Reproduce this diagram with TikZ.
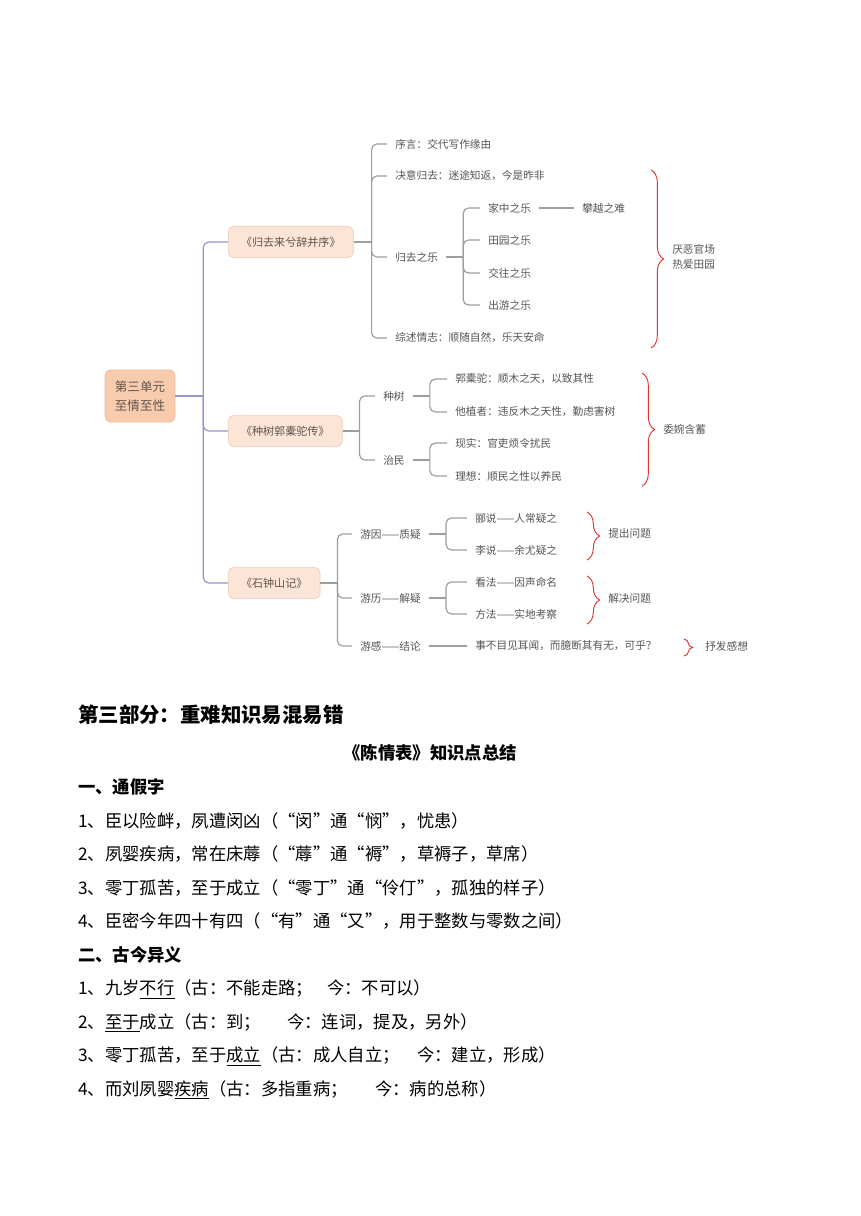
\documentclass[tikz,border=0pt]{standalone}
\usepackage{fontspec}
\setmainfont{Noto Sans CJK SC}
\usetikzlibrary{decorations.pathreplacing}

\definecolor{rootfill}{RGB}{248,203,173}
\definecolor{rootedge}{RGB}{236,188,158}
\definecolor{topicfill}{RGB}{252,228,214}
\definecolor{topicedge}{RGB}{240,204,180}
\definecolor{trunkc}{RGB}{150,150,205}
\definecolor{linkc}{RGB}{158,158,158}
\definecolor{bracec}{RGB}{222,52,52}
\definecolor{leaftext}{RGB}{85,85,85}
\definecolor{topictext}{RGB}{96,86,78}

\begin{document}
\begin{tikzpicture}[
  x=0.75pt, y=-0.75pt,
  root/.style={rounded corners=4pt, fill=rootfill, draw=rootedge, line width=0.5pt,
    text=topictext, align=center, font=\fontsize{9.4}{14}\selectfont,
    minimum width=52.5pt, minimum height=39pt, inner sep=0pt},
  topic/.style={rounded corners=4pt, fill=topicfill, draw=topicedge, line width=0.5pt,
    text=topictext, font=\fontsize{8.3}{10}\selectfont, anchor=west,
    minimum height=23.5pt, inner xsep=9.5pt},
  leaf/.style={text=leaftext, font=\fontsize{8}{10}\selectfont, anchor=west,
    inner xsep=6pt, inner ysep=2pt},
  note/.style={leaf, inner xsep=0pt, align=left, font=\fontsize{8}{11.3}\selectfont},
  trunk/.style={draw=trunkc, line width=0.9pt, rounded corners=4pt},
  link/.style={draw=linkc, line width=0.9pt, rounded corners=4pt},
  brc/.style={draw=bracec, line width=0.7pt, decorate, decoration={brace, amplitude=9.5pt}},
  body/.style={anchor=west, inner sep=0pt, font=\fontsize{13}{16}\selectfont,
    text height=11.4pt, text depth=1.6pt},
  sect/.style={body, font=\fontsize{13}{16}\selectfont\bfseries},
  head/.style={body, font=\fontsize{15.3}{18}\selectfont\bfseries,
    text height=13.5pt, text depth=1.8pt},
]

\fill[white] (0,0) rectangle (860,1216);
\useasboundingbox (0,0) rectangle (860,1216);

% ============================================================
% MIND MAP: root and the three texts
% ============================================================
\node[root] (root) at (140,396) {第三单元\\至情至性};
\node[topic] (gui)   at (228,242) {《归去来兮辞并序》};
\node[topic] (zhong) at (228,431) {《种树郭橐驼传》};
\node[topic] (shi)   at (228,583) {《石钟山记》};

% ---- 《归去来兮辞并序》 ----
\node[leaf] (xu)   at (387,144) {序言：交代写作缘由};
\node[leaf] (jue)  at (387,176) {决意归去：迷途知返，今是昨非};
\node[leaf] (le)   at (387,257) {归去之乐};
\node[leaf] (zong) at (387,338) {综述情志：顺随自然，乐天安命};
\node[leaf] (jia)  at (480,208) {家中之乐};
\node[leaf] (tian) at (480,240) {田园之乐};
\node[leaf] (jiao) at (480,273) {交往之乐};
\node[leaf] (chu)  at (480,305) {出游之乐};
\node[leaf] (pan)  at (574,208) {攀越之难};

% ---- 《种树郭橐驼传》 ----
\node[leaf] (shu)  at (375,396) {种树};
\node[leaf] (zhi)  at (375,460) {治民};
\node[leaf] (guo)  at (447,379) {郭橐驼：顺木之天，以致其性};
\node[leaf] (ta)   at (447,412) {他植者：违反木之天性，勤虑害树};
\node[leaf] (xian) at (447,443) {现实：官吏烦令扰民};
\node[leaf] (li)   at (447,476) {理想：顺民之性以养民};

% ---- 《石钟山记》 ----
\node[leaf] (yin)  at (352,534) {游因——质疑};
\node[leaf] (yli)  at (352,598) {游历——解疑};
\node[leaf] (ygan) at (352,646) {游感——结论};
\node[leaf] (lis)  at (467,518) {郦说——人常疑之};
\node[leaf] (lsh)  at (467,550) {李说——余尤疑之};
\node[leaf] (kan)  at (467,582) {看法——因声命名};
\node[leaf] (fang) at (467,614) {方法——实地考察};
\node[leaf] (shib) at (467,646) {事不目见耳闻，而臆断其有无，可乎？};

% ============================================================
% CONNECTORS
% ============================================================
\draw[trunk] (root.east) -- ++(28,0) coordinate (jr);
\foreach \t in {gui, zhong, shi}
  \draw[trunk] (jr) |- (\t.west);

\draw[link] (gui.east) -- ++(18,0) coordinate (jg);
\foreach \n in {xu, jue, le, zong}
  \draw[link] (jg) |- (\n.west);
\draw[link] (le.east) -- ++(17,0) coordinate (jl);
\foreach \n in {jia, tian, jiao, chu}
  \draw[link] (jl) |- (\n.west);
\draw[link] (jia.east) -- (pan.west);

\draw[link] (zhong.east) -- ++(17,0) coordinate (jz);
\foreach \n in {shu, zhi}
  \draw[link] (jz) |- (\n.west);
\draw[link] (shu.east) -- ++(17,0) coordinate (js1);
\foreach \n in {guo, ta}
  \draw[link] (js1) |- (\n.west);
\draw[link] (zhi.east) -- ++(17,0) coordinate (js2);
\foreach \n in {xian, li}
  \draw[link] (js2) |- (\n.west);

\draw[link] (shi.east) -- ++(17,0) coordinate (jsh);
\foreach \n in {yin, yli, ygan}
  \draw[link] (jsh) |- (\n.west);
\draw[link] (yin.east) -- ++(17,0) coordinate (jy1);
\foreach \n in {lis, lsh}
  \draw[link] (jy1) |- (\n.west);
\draw[link] (yli.east) -- ++(17,0) coordinate (jy2);
\foreach \n in {kan, fang}
  \draw[link] (jy2) |- (\n.west);
\draw[link] (ygan.east) -- (shib.west);

% ============================================================
% BRACES and their notes
% ============================================================
\draw[brc] (651,170) -- (651,348);
\draw[brc] (642,373) -- (642,486);
\draw[brc] (587,512) -- (587,560);
\draw[brc] (587,576) -- (587,624);
\draw[brc, decoration={brace, amplitude=6.5pt}] (684,639) -- (684,656);

\node[note] (yan) at (672,257) {厌恶官场\\热爱田园};
\node[note] (wei) at (663,429) {委婉含蓄};
\node[note] (tc)  at (608,533) {提出问题};
\node[note] (jj)  at (608,598) {解决问题};
\node[note] (sf)  at (705,646) {抒发感想};

% ============================================================
% TEXT below the map
% ============================================================
\node[head] (part) at (78,715) {第三部分：重难知识易混易错};
\node[sect, anchor=center] (title) at (430,753) {《陈情表》知识点总结};

\node[sect] (tj) at (78,787) {一、通假字};
\node[body] (a1) at (78,820.5) {1、臣以险衅，夙遭闵凶（“闵”通“悯”，忧患）};
\node[body] (a2) at (78,854) {2、夙婴疾病，常在床蓐（“蓐”通“褥”，草褥子，草席）};
\node[body] (a3) at (78,887.5) {3、零丁孤苦，至于成立（“零丁”通“伶仃”，孤独的样子）};
\node[body] (a4) at (78,921) {4、臣密今年四十有四（“有”通“又”，用于整数与零数之间）};

\node[sect] (gj) at (78,954.5) {二、古今异义};
\node[body] (b1)  at (78,988) {1、九岁\underline{不行}（古：不能走路；};
\node[body] (b1n) at (327,988) {今：不可以）};
\node[body] (b2)  at (78,1021.5) {2、\underline{至于}成立（古：到；};
\node[body] (b2n) at (287,1021.5) {今：连词，提及，另外）};
\node[body] (b3)  at (78,1055) {3、零丁孤苦，至于\underline{成立}（古：成人自立；};
\node[body] (b3n) at (417,1055) {今：建立，形成）};
\node[body] (b4)  at (78,1088.5) {4、而刘夙婴\underline{疾病}（古：多指重病；};
\node[body] (b4n) at (375,1088.5) {今：病的总称）};

\end{tikzpicture}
\end{document}
